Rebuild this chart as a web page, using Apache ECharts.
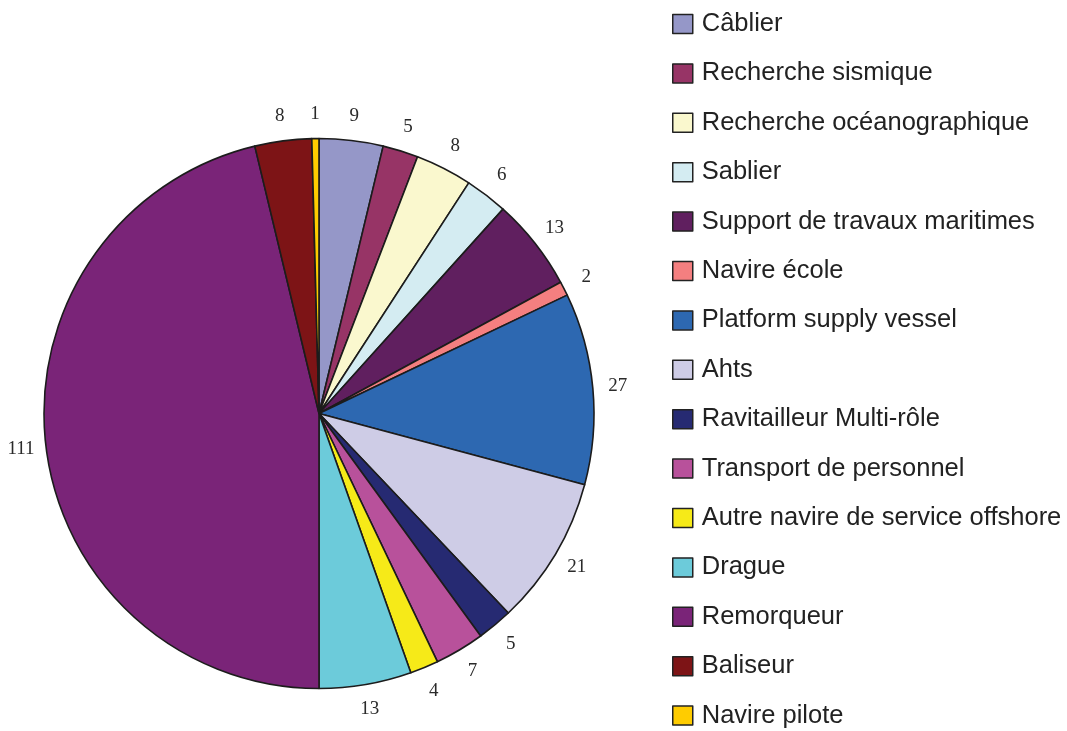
<!DOCTYPE html>
<html>
<head>
<meta charset="utf-8">
<style>
  html, body { margin: 0; padding: 0; background: #fff; }
  #chart { width: 1067px; height: 731px; }
</style>
<script src="https://cdn.jsdelivr.net/npm/echarts@6/dist/echarts.min.js"></script>
</head>
<body>
<div id="chart"></div>
<script>
// vessel categories, clockwise from 12 o'clock
var categories = [
  "Câblier", "Recherche sismique", "Recherche océanographique", "Sablier",
  "Support de travaux maritimes", "Navire école", "Platform supply vessel", "Ahts",
  "Ravitailleur Multi-rôle", "Transport de personnel", "Autre navire de service offshore",
  "Drague", "Remorqueur", "Baliseur", "Navire pilote"
];
var counts = [9, 5, 8, 6, 13, 2, 27, 21, 5, 7, 4, 13, 111, 8, 1];
var colors = [
  "#9597C8", "#973466", "#FAF8CE", "#D4ECF2", "#601F5F", "#F47F80", "#2D68B1", "#CECCE6",
  "#262A72", "#B8519B", "#F6EA18", "#6CCBDA", "#7A2478", "#7D1416", "#FFCC00"
];

var chart = echarts.init(document.getElementById("chart"), null, { renderer: "canvas" });

var pieData = categories.map(function (name, i) {
  return { name: name, value: counts[i], itemStyle: { color: colors[i] } };
});

chart.setOption({
  animation: false,
  backgroundColor: "#fff",
  legend: {
    orient: "vertical",
    left: 672,
    top: 11,
    padding: 0,
    itemWidth: 20,
    itemHeight: 19,
    itemGap: 23.4,
    icon: "rect",
    selectedMode: false,
    itemStyle: { borderColor: "#222", borderWidth: 1.5 },
    textStyle: {
      fontFamily: '"Liberation Sans", Arial, sans-serif',
      fontSize: 25.5,
      color: "#222",
      padding: [0, 0, 0, 4]
    },
    data: categories
  },
  series: [{
    type: "pie",
    center: [319, 413.5],
    radius: 275,
    startAngle: 90,
    clockwise: true,
    avoidLabelOverlap: false,
    data: pieData,
    itemStyle: { borderColor: "#1c1c1c", borderWidth: 1.6 },
    emphasis: { disabled: true },
    label: {
      show: true,
      position: "outside",
      formatter: "{c}",
      fontFamily: '"Liberation Serif", "Times New Roman", serif',
      fontSize: 19,
      color: "#2a2a2a"
    },
    labelLine: { show: true, length: 25, length2: 0, lineStyle: { opacity: 0 } },
    // centre each number on the end of its (hidden) guide line
    labelLayout: function (p) {
      var pts = p.labelLinePoints;
      if (!pts) return {};
      var end = pts[pts.length - 1];
      return { x: end[0], y: end[1], align: "center", verticalAlign: "middle" };
    }
  }]
});
</script>
</body>
</html>
